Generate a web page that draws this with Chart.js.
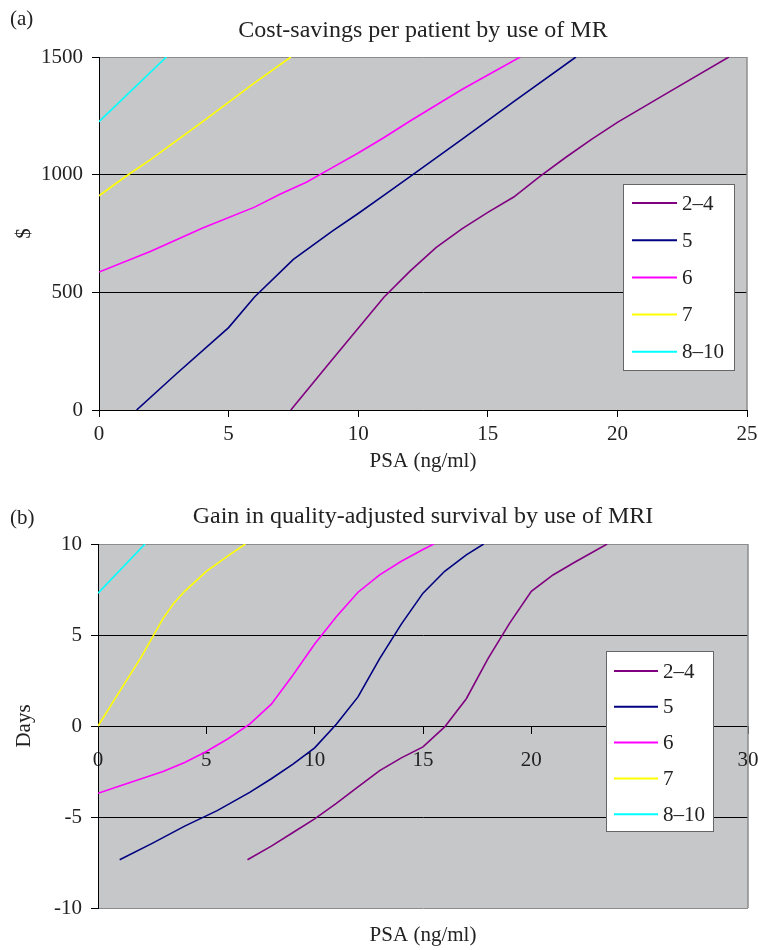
<!DOCTYPE html>
<html><head><meta charset="utf-8">
<script src="https://cdn.jsdelivr.net/npm/chart.js@4.4.1/dist/chart.umd.min.js"></script>
<style>
body{margin:0;background:#fff;}
#wrap{position:relative;width:758px;height:950px;}
canvas{position:absolute;left:0;}
.lab{position:absolute;font-family:'Liberation Serif',serif;font-size:21px;color:#222;line-height:24px;}
</style></head><body>
<div id="wrap">
<canvas id="c1" width="758" height="480" style="top:0"></canvas>
<canvas id="c2" width="758" height="470" style="top:480px"></canvas>
<div class="lab" style="left:10px;top:6px">(a)</div>
<div class="lab" style="left:10px;top:505px">(b)</div>
</div>
<script>
// ---- series names / colours ----
const seriesNames = ['2–4', '5', '6', '7', '8–10'];
const seriesColors = ['#800080', '#000080', '#ff00ff', '#ffff00', '#00ffff'];

// ---- (a) Cost-savings per patient ($) vs PSA ----
const psaA_24  = [7.4, 9, 11, 12, 13, 14, 15, 16, 17, 18, 19, 20, 22, 24.3];
const costA_24 = [0, 215, 480, 590, 690, 770, 840, 905, 992, 1073, 1150, 1222, 1352, 1500];
const psaA_5   = [1.45, 3, 5, 6, 7.5, 9, 10, 11, 12, 14, 16, 18.4];
const costA_5  = [0, 155, 350, 480, 640, 760, 835, 913, 992, 1150, 1310, 1500];
const psaA_6   = [0, 2, 4, 6, 7, 8, 9, 10, 11, 12, 14, 16.25];
const costA_6  = [586, 675, 773, 862, 918, 968, 1030, 1092, 1158, 1228, 1362, 1500];
const psaA_7   = [0, 1, 2, 4, 6, 7.4];
const costA_7  = [910, 990, 1065, 1225, 1390, 1500];
const psaA_810 = [0, 2.6];
const costA_810 = [1225, 1500];
const xTicksA = [0, 5, 10, 15, 20, 25];
const yTicksA = [0, 500, 1000, 1500];

// ---- (b) Gain in quality-adjusted survival (days) vs PSA ----
const psaB_24  = [6.9, 8, 9, 10, 11, 12, 13, 14, 15, 16, 17, 18, 19, 20, 21, 22, 23.5];
const daysB_24 = [-7.35, -6.6, -5.85, -5.1, -4.25, -3.35, -2.45, -1.75, -1.15, -0.05, 1.5, 3.7, 5.65, 7.4, 8.3, 9.0, 10];
const psaB_5   = [1, 2.5, 4, 5.5, 7, 8, 9, 10, 11, 12, 13, 14, 15, 16, 17, 17.8];
const daysB_5  = [-7.35, -6.45, -5.5, -4.65, -3.65, -2.9, -2.1, -1.2, 0.1, 1.6, 3.7, 5.6, 7.3, 8.5, 9.4, 10];
const psaB_6   = [0, 1, 2, 3, 4, 5, 6, 7, 8, 9, 10, 11, 12, 13, 14, 15, 15.5];
const daysB_6  = [-3.7, -3.3, -2.9, -2.5, -2.0, -1.4, -0.7, 0.1, 1.2, 2.8, 4.5, 6.0, 7.35, 8.3, 9.05, 9.7, 10];
const psaB_7   = [0, 1, 2, 3, 3.5, 4, 5, 6, 6.8];
const daysB_7  = [0, 1.9, 3.8, 5.9, 6.75, 7.4, 8.5, 9.35, 10];
const psaB_810 = [0, 2.17];
const daysB_810 = [7.3, 10];
const xTicksB = [0, 5, 10, 15, 20, 25, 30];
const yTicksB = [-10, -5, 0, 5, 10];

const toPts = (xs, ys) => xs.map((x, i) => ({x: x, y: ys[i]}));

Chart.defaults.font.family = "'Liberation Serif', serif";
Chart.defaults.color = '#222';

const FONT = 21;
const PLOT_BG = '#c6c7c9';
const EDGE = '#8c8c8c';
const plainNum = v => String(v);

const plotBg = {
  id: 'plotBg',
  beforeDraw(chart) {
    const {ctx, chartArea: a} = chart;
    ctx.save();
    ctx.fillStyle = PLOT_BG;
    ctx.fillRect(a.left, a.top, a.right - a.left, a.bottom - a.top);
    ctx.restore();
  },
  beforeDatasetsDraw(chart) {
    const {ctx, chartArea: a} = chart;
    ctx.save();
    ctx.strokeStyle = EDGE;
    ctx.lineWidth = 1.5;
    ctx.beginPath();
    ctx.moveTo(a.right, a.top);
    ctx.lineTo(a.right, a.bottom);
    ctx.stroke();
    ctx.restore();
  }
};

const boxLegend = {
  id: 'boxLegend',
  afterDraw(chart, args, o) {
    const ctx = chart.ctx;
    ctx.save();
    ctx.fillStyle = '#fff';
    ctx.fillRect(o.x, o.y, o.w, o.h);
    ctx.strokeStyle = '#666';
    ctx.lineWidth = 1;
    ctx.strokeRect(o.x + 0.5, o.y + 0.5, o.w, o.h);
    ctx.font = FONT + "px 'Liberation Serif', serif";
    ctx.textBaseline = 'middle';
    chart.data.datasets.forEach((ds, i) => {
      const y = o.firstY + i * o.step;
      ctx.strokeStyle = ds.borderColor;
      ctx.lineWidth = 2;
      ctx.beginPath();
      ctx.moveTo(o.lineX1, y);
      ctx.lineTo(o.lineX2, y);
      ctx.stroke();
      ctx.fillStyle = '#222';
      ctx.fillText(ds.label, o.textX, y + 1);
    });
    ctx.restore();
  }
};

function makeDatasets(xsList, ysList) {
  return seriesNames.map((name, i) => ({
    label: name,
    data: toPts(xsList[i], ysList[i]),
    borderColor: seriesColors[i],
    backgroundColor: seriesColors[i],
    borderWidth: 1.6,
    pointRadius: 0,
    tension: 0,
    fill: false,
    xAxisID: 'x',
    yAxisID: 'y'
  }));
}

// ---------- Chart (a) ----------
new Chart(document.getElementById('c1'), {
  type: 'line',
  data: {
    datasets: makeDatasets(
      [psaA_24, psaA_5, psaA_6, psaA_7, psaA_810],
      [costA_24, costA_5, costA_6, costA_7, costA_810])
  },
  options: {
    responsive: false,
    animation: false,
    events: [],
    layout: {padding: {left: 0, right: 11, top: 0, bottom: 0}},
    plugins: {
      legend: {display: false},
      tooltip: {enabled: false},
      title: {
        display: true, text: 'Cost-savings per patient by use of MR',
        fullSize: false, color: '#222',
        font: {size: 24, weight: 'normal', lineHeight: 1.2},
        padding: {top: 16, bottom: 12.2}
      },
      boxLegend: {x: 623, y: 184, w: 111, h: 186, lineX1: 632, lineX2: 677, textX: 682, firstY: 203, step: 37.2}
    },
    scales: {
      x: {
        type: 'linear', min: xTicksA[0], max: xTicksA[xTicksA.length - 1],
        afterBuildTicks: s => { s.ticks = xTicksA.map(v => ({value: v})); },
        ticks: {padding: 5, color: '#222', font: {size: FONT}, maxRotation: 0, autoSkip: false, callback: plainNum},
        grid: {drawOnChartArea: false, tickLength: 7, color: '#000'},
        border: {color: '#000', width: 1},
        title: {display: true, text: 'PSA (ng/ml)', color: '#222', font: {size: FONT}, padding: {top: 0, bottom: 6}},
        afterFit: s => { s.height = 70; s.paddingLeft = 0; s.paddingRight = 0; }
      },
      y: {
        type: 'linear', min: yTicksA[0], max: yTicksA[yTicksA.length - 1],
        afterBuildTicks: s => { s.ticks = yTicksA.map(v => ({value: v})); },
        ticks: {padding: 9, color: '#222', font: {size: FONT}, callback: plainNum},
        grid: {
          color: c => (c.tick && c.tick.value === 1500) ? EDGE : '#000',
          tickColor: '#000', tickLength: 7, lineWidth: 1
        },
        border: {color: '#000', width: 1},
        title: {display: true, text: '$', color: '#222', font: {size: FONT}, padding: {top: 12, bottom: 0}},
        afterFit: s => { s.width = 99; s.paddingTop = 0; s.paddingBottom = 0; }
      }
    }
  },
  plugins: [plotBg, boxLegend]
});

// ---------- Chart (b) ----------
new Chart(document.getElementById('c2'), {
  type: 'line',
  data: {
    datasets: makeDatasets(
      [psaB_24, psaB_5, psaB_6, psaB_7, psaB_810],
      [daysB_24, daysB_5, daysB_6, daysB_7, daysB_810])
  },
  options: {
    responsive: false,
    animation: false,
    events: [],
    layout: {padding: {left: 0, right: 10, top: 0, bottom: 0}},
    plugins: {
      legend: {display: false},
      tooltip: {enabled: false},
      title: {
        display: true, text: 'Gain in quality-adjusted survival by use of MRI',
        fullSize: false, color: '#222',
        font: {size: 24, weight: 'normal', lineHeight: 1.2},
        padding: {top: 22.6, bottom: 12.6}
      },
      boxLegend: {x: 606, y: 171, w: 107, h: 180, lineX1: 614, lineX2: 658, textX: 663, firstY: 191, step: 35.8}
    },
    scales: {
      x: {
        type: 'linear', position: {y: 0},
        min: xTicksB[0], max: xTicksB[xTicksB.length - 1],
        afterBuildTicks: s => { s.ticks = xTicksB.map(v => ({value: v})); },
        ticks: {padding: 15, color: '#222', font: {size: FONT}, maxRotation: 0, autoSkip: false, callback: plainNum},
        grid: {drawOnChartArea: false, tickLength: 7, color: '#000'},
        border: {color: '#000', width: 1},
        afterFit: s => { s.paddingLeft = 0; s.paddingRight = 0; }
      },
      xt: {
        type: 'linear', axis: 'x', position: 'bottom', min: 0, max: 30,
        ticks: {display: false},
        grid: {display: false},
        border: {display: false},
        title: {display: true, text: 'PSA (ng/ml)', color: '#222', font: {size: FONT}, padding: {top: 0, bottom: 2.4}},
        afterFit: s => { s.height = 42; s.paddingLeft = 0; s.paddingRight = 0; }
      },
      y: {
        type: 'linear', min: yTicksB[0], max: yTicksB[yTicksB.length - 1],
        afterBuildTicks: s => { s.ticks = yTicksB.map(v => ({value: v})); },
        ticks: {padding: 9, color: '#222', font: {size: FONT}, callback: plainNum},
        grid: {
          color: c => (c.tick && (c.tick.value === 10 || c.tick.value === -10)) ? EDGE : '#000',
          tickColor: '#000', tickLength: 7, lineWidth: 1
        },
        border: {color: '#000', width: 1},
        title: {display: true, text: 'Days', color: '#222', font: {size: FONT}, padding: {top: 12, bottom: 0}},
        afterFit: s => { s.width = 98; s.paddingTop = 0; s.paddingBottom = 0; }
      }
    }
  },
  plugins: [plotBg, boxLegend]
});
</script>
</body></html>
